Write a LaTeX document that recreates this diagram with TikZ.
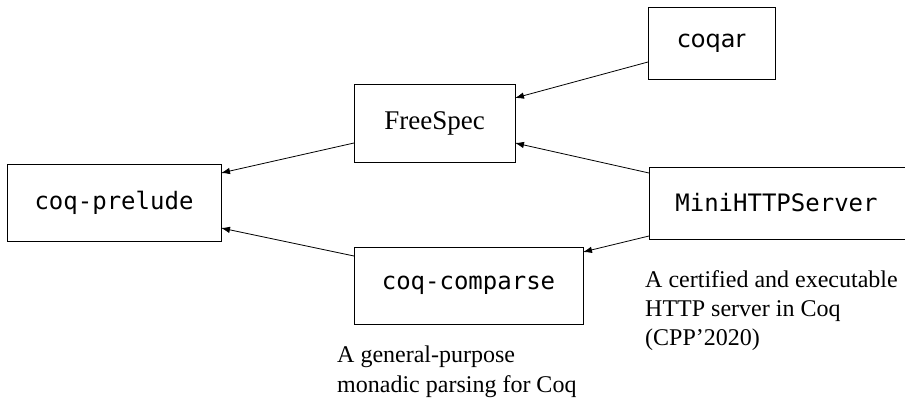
\documentclass[tikz,border=0pt]{standalone}
\usepackage{fontspec}
\setmainfont{Liberation Serif}
\newfontfamily\monof{DejaVu Sans Mono}
\newfontfamily\sansf{DejaVu Sans}
\usetikzlibrary{arrows.meta}
\begin{document}
\begin{tikzpicture}[x=1pt,y=-1pt,
  box/.style={draw, line width=0.9pt, inner sep=0pt, outer sep=0pt},
  mono/.style={font=\monof\fontsize{24}{28}\selectfont},
  note/.style={anchor=base west, inner sep=0pt, font=\fontsize{24}{29}\selectfont},
  dep/.style={line width=0.8pt, -{Latex[length=9pt,width=6.5pt]}}]
\useasboundingbox (0,0) rectangle (905,401);
\clip (0,0) rectangle (905,401);
\node[box, mono, minimum width=214pt, minimum height=77pt] (prelude) at (114,202.5) {coq-prelude};
\node[box, font=\sansf\fontsize{24}{28}\selectfont, minimum width=127pt, minimum height=72pt] (coqar) at (711.5,43) {coqar};
\node[box, font=\fontsize{27}{30}\selectfont, minimum width=161pt, minimum height=78pt] (freespec) at (434.5,123) {FreeSpec};
\node[box, mono, minimum width=258pt, minimum height=72pt] (mini) at (778,203) {\hspace*{-3pt}MiniHTTPServer};
\node[box, mono, minimum width=229pt, minimum height=77pt] (comparse) at (468.5,285.5) {coq-comparse};
\draw[dep] ([yshift=-19pt]coqar.west) -- ([yshift=25pt]freespec.east);
\draw[dep] ([yshift=30pt]mini.west) -- ([yshift=-20pt]freespec.east);
\draw[dep] ([yshift=-20pt]freespec.west) -- ([yshift=29.5pt]prelude.east);
\draw[dep] ([yshift=29.5pt]comparse.west) -- ([yshift=-25.5pt]prelude.east);
\draw[dep] ([yshift=-33pt]mini.west) -- ([yshift=33.5pt]comparse.east);
\node[note] (n1) at (645,287) {A certified and executable};
\node[note] (n2) at (645,316) {HTTP server in Coq};
\node[note] (n3) at (645,345) {(CPP'2020)};
\node[note] (n4) at (337,362) {A general-purpose};
\node[note] (n5) at (337,392) {monadic parsing for Coq};
\end{tikzpicture}
\end{document}
